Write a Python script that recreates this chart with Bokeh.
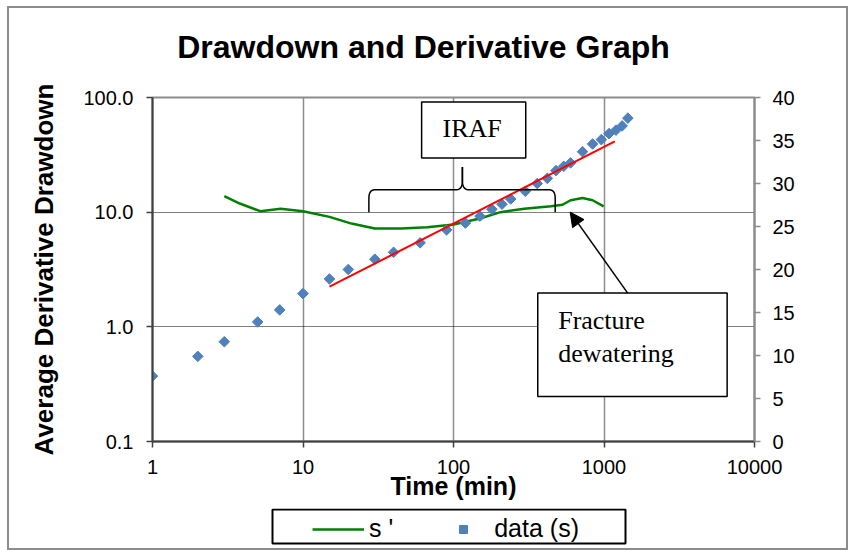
import numpy as np
from bokeh.plotting import figure
from bokeh.layouts import column
from bokeh.models import (Range1d, LinearAxis, LinearScale, FixedTicker, PrintfTickFormatter,
                          Legend, LegendItem, BoxAnnotation, Label, Arrow, NormalHead)
from bokeh.embed import file_html
from bokeh.resources import INLINE

# ---------------- data ----------------
time_min = [1, 2, 3, 5, 7, 10, 15, 20, 30, 40, 60, 90, 120, 150, 180, 210, 240,
            300, 360, 420, 480, 540, 600, 720, 840, 960, 1080, 1200, 1320, 1440]
drawdown_m = [7.6, 9.9, 11.6, 13.9, 15.3, 17.2, 18.9, 20.0, 21.2, 22.0, 23.1, 24.6, 25.4, 26.2,
              27.0, 27.6, 28.2, 29.1, 30.0, 30.6, 31.5, 32.0, 32.4, 33.7, 34.6, 35.1, 35.8,
              36.2, 36.7, 37.6]
deriv_time = [3.0, 3.8, 5.2, 7.1, 10, 15, 21, 30, 45, 67, 100, 150, 205, 295, 445, 530,
              600, 720, 840, 995]
deriv_s = [13.8, 11.9, 10.2, 10.7, 10.2, 9.1, 7.95, 7.2, 7.2, 7.4, 7.8, 8.8, 10.0, 10.7,
           11.25, 11.6, 12.7, 13.3, 12.7, 11.25]
fit_time = [15, 1180]
fit_s = [18.0, 34.9]

x_ticks = [1, 10, 100, 1000, 10000]
left_ticks = [0.1, 1, 10, 100]
right_ticks = [0, 5, 10, 15, 20, 25, 30, 35, 40]

# annotation anchors (data units)
brace_x = [27.4, 114.6, 474]      # left tip, peak, right tip
brace_y = [10, 15.7, 24.8]        # tip level, bar level, peak level
iraf_box = dict(left=61.4, right=302, bottom=29.7, top=91.5)
frac_box = dict(left=363, right=6580, bottom=0.247, top=1.97)
arrow_from = (1437, 1.97)
arrow_to = (596, 10.0)

FONT = "Liberation Sans"
SERIF = "Liberation Serif"
GREEN = "#008000"
BLUE = "#4F81BD"
W = 837
FL, FR = 143, 745   # frame edges shared by all strips (pixels from the left)


def bare(fig):
    fig.outline_line_color = None
    fig.border_fill_color = "white"
    fig.background_fill_color = "white"
    fig.xgrid.visible = False
    fig.ygrid.visible = False


# ---------------- title strip ----------------
TH = 77
t = figure(width=W, height=TH, x_range=Range1d(FL, FR), y_range=Range1d(0, TH), title=None,
           x_axis_location=None, y_axis_location=None, min_border=0,
           min_border_left=FL, min_border_right=W - FR,
           output_backend="svg", toolbar_location=None)
bare(t)
t.add_layout(Label(x=414, y=38.3, text="Drawdown and Derivative Graph",
                   text_align="center", text_baseline="alphabetic", text_font=FONT,
                   text_font_style="bold", text_font_size="32px", text_color="black"))

# ---------------- main chart ----------------
p = figure(frame_width=FR - FL, frame_height=344, x_axis_type="log", y_axis_type="log",
           x_range=Range1d(1, 10000), y_range=Range1d(0.1, 100), title=None,
           output_backend="svg", toolbar_location=None,
           min_border_left=FL, min_border_right=W - FR, min_border_top=12, min_border_bottom=67)
p.extra_y_ranges = {"right": Range1d(0, 40)}
p.extra_y_scales = {"right": LinearScale()}
p.background_fill_color = "white"
p.border_fill_color = "white"
p.outline_line_color = "#8c8c8c"
p.outline_line_width = 2

xa = p.xaxis[0]
xa.ticker = FixedTicker(ticks=x_ticks)
xa.formatter = PrintfTickFormatter(format="%d")
xa.axis_label = "Time (min)"

ya = p.yaxis[0]
ya.ticker = FixedTicker(ticks=left_ticks)
ya.formatter = PrintfTickFormatter(format="%.1f")
ya.axis_label = "Average Derivative Drawdown"

ra = LinearAxis(y_range_name="right", ticker=FixedTicker(ticks=right_ticks))
p.add_layout(ra, "right")

for ax, col in ((xa, "#404040"), (ya, "#404040"), (ra, "#8c8c8c")):
    ax.axis_line_color = col
    ax.axis_line_width = 2
    ax.major_tick_line_color = col
    ax.major_tick_line_width = 1.5
    ax.major_tick_out = 6
    ax.major_tick_in = 0
    ax.minor_tick_line_color = None
    ax.major_label_text_font = FONT
    ax.major_label_text_font_size = "20px"
    ax.major_label_text_color = "black"
    ax.axis_label_text_font = FONT
    ax.axis_label_text_font_style = "bold"
    ax.axis_label_text_font_size = "25px"
    ax.axis_label_text_color = "black"

ya.axis_label_text_font_size = "26px"
xa.major_label_standoff = 12
xa.axis_label_standoff = -5
ya.major_label_standoff = 13
ya.axis_label_standoff = 21
ra.major_label_standoff = 12

p.xgrid.ticker = FixedTicker(ticks=[10, 100, 1000])
p.xgrid.grid_line_color = "#8c8c8c"
p.xgrid.grid_line_width = 1.5
p.ygrid.ticker = FixedTicker(ticks=[1, 10])
p.ygrid.grid_line_color = "black"
p.ygrid.grid_line_width = 1
p.ygrid.grid_line_dash = "1 1"

p.line(deriv_time, deriv_s, line_color=GREEN, line_width=2.5)
p.scatter(time_min, drawdown_m, y_range_name="right", marker="square", angle=np.pi / 4,
          size=7.5, fill_color=BLUE, line_color=BLUE)
p.line(fit_time, fit_s, y_range_name="right", line_color="red", line_width=2)

# right axis title
p.add_layout(Label(x=28200, y=np.sqrt(0.1 * 100), text="Actual Drawdown (m)", angle=np.pi / 2,
                   text_align="center", text_baseline="middle", text_font=FONT,
                   text_font_style="bold", text_font_size="26px", text_color="black"))


# curly brace (built in log space)
def qbez(p0, c, p1, n=14):
    tt = np.linspace(0, 1, n)[:, None]
    return (1 - tt) ** 2 * np.array(p0) + 2 * (1 - tt) * tt * np.array(c) + tt ** 2 * np.array(p1)


lxL, lxM, lxR = np.log10(brace_x)
lyT, lyB, lyP = np.log10(brace_y)
rx, ry = 0.042, 0.075
half_left = np.vstack([
    [[lxL, lyT]],
    qbez((lxL, lyB - ry), (lxL, lyB), (lxL + rx, lyB)),
    qbez((lxM - rx, lyB), (lxM, lyB), (lxM, lyB + ry)),
    [[lxM, lyP]],
])
half_right = np.vstack([
    [[lxM, lyP]],
    qbez((lxM, lyB + ry), (lxM, lyB), (lxM + rx, lyB)),
    qbez((lxR - rx, lyB), (lxR, lyB), (lxR, lyB - ry)),
    [[lxR, lyT]],
])
for half in (half_left, half_right):
    p.line(10 ** half[:, 0], 10 ** half[:, 1], line_color="black", line_width=1.5)

p.add_layout(BoxAnnotation(**iraf_box, fill_color="white", fill_alpha=1.0,
                           line_color="black", line_width=1.5, line_alpha=1.0))
p.add_layout(Label(x=133, y=53.7, text="IRAF", text_align="center", text_baseline="alphabetic",
                   text_font=SERIF, text_font_size="26px", text_color="black"))
p.add_layout(BoxAnnotation(**frac_box, fill_color="white", fill_alpha=1.0,
                           line_color="black", line_width=1.5, line_alpha=1.0))
p.add_layout(Label(x=496, y=1.142, text="Fracture", text_align="left", text_baseline="alphabetic",
                   text_font=SERIF, text_font_size="26px", text_color="black"))
p.add_layout(Label(x=496, y=0.581, text="dewatering", text_align="left", text_baseline="alphabetic",
                   text_font=SERIF, text_font_size="26px", text_color="black"))
p.add_layout(Arrow(x_start=arrow_from[0], y_start=arrow_from[1], x_end=arrow_to[0], y_end=arrow_to[1],
                   line_color="black", line_width=1.5,
                   end=NormalHead(size=14, fill_color="black", line_color="black")))

# ---------------- legend strip ----------------
LH = 40
lf = figure(width=W, height=LH, x_range=Range1d(FL, FR), y_range=Range1d(0, LH), title=None,
            x_axis_location=None, y_axis_location=None, min_border=0,
            min_border_left=FL, min_border_right=W - FR,
            output_backend="svg", toolbar_location=None)
bare(lf)
lf.extra_x_ranges = {"offscreen": Range1d(-2, -1)}
# same series styles; their data lies outside this strip's range so only the legend shows
lg = lf.line(deriv_time, deriv_s, x_range_name="offscreen", line_color=GREEN, line_width=2.5)
ld = lf.scatter(time_min, drawdown_m, x_range_name="offscreen", marker="square", angle=np.pi / 4,
                size=7.5, fill_color=BLUE, line_color=BLUE)
lf.add_layout(BoxAnnotation(left=263, right=616, bottom=5, top=39, fill_alpha=0,
                            line_color="black", line_width=2, line_alpha=1.0))
legend = Legend(items=[LegendItem(label="s '", renderers=[lg]),
                       LegendItem(label="data (s)", renderers=[ld])],
                orientation="horizontal", location=(160, 5),
                label_text_font=FONT, label_text_font_size="25px", label_text_color="black",
                glyph_width=52, glyph_height=20, label_standoff=5, spacing=44,
                padding=3, margin=0, border_line_color=None, background_fill_alpha=0)
lf.add_layout(legend)

layout = column(t, p, lf, spacing=0,
                styles={"margin-left": "7px", "margin-top": "6px", "border": "2px solid #8c8c8c",
                        "background-color": "white"})

open("out.html", "w").write(file_html(layout, INLINE))
